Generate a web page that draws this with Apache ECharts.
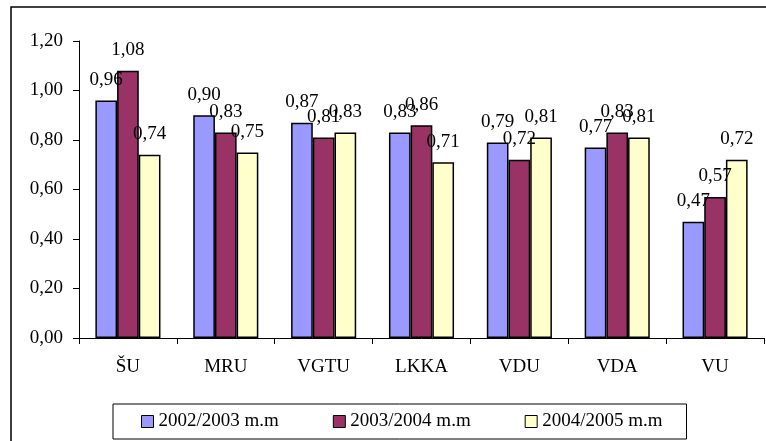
<!DOCTYPE html>
<html>
<head>
<meta charset="utf-8">
<script src="https://cdn.jsdelivr.net/npm/echarts@6/dist/echarts.min.js"></script>
<style>
  html, body { margin: 0; padding: 0; background: #fff; }
  #container { width: 766px; height: 441px; }
</style>
</head>
<body>
<div id="container"></div>
<script>
// kategorijos (universitetai)
var categories = ['ŠU', 'MRU', 'VGTU', 'LKKA', 'VDU', 'VDA', 'VU'];

var seriesNames = ['2002/2003 m.m', '2003/2004 m.m', '2004/2005 m.m'];

var values2002 = [0.96, 0.90, 0.87, 0.83, 0.79, 0.77, 0.47];
var values2003 = [1.08, 0.83, 0.81, 0.86, 0.72, 0.83, 0.57];
var values2004 = [0.74, 0.75, 0.83, 0.71, 0.81, 0.81, 0.72];

var yTicks = [0, 0.2, 0.4, 0.6, 0.8, 1.0, 1.2];

var colors = ['#9999FF', '#993366', '#FFFFCC'];

var font = 'Liberation Serif';

function fmt(v) {
    return v.toFixed(2).replace('.', ',');
}

var dom = document.getElementById("container");
var myChart = echarts.init(dom);

function makeSeries(name, data, color) {
    return {
        name: name,
        type: 'bar',
        data: data,
        barWidth: 21.7,
        barGap: '0%',
        barCategoryGap: '33%',
        itemStyle: {
            color: color,
            borderColor: '#000',
            borderWidth: 1.5
        },
        label: {
            show: true,
            position: 'top',
            distance: 11,
            color: '#000',
            fontFamily: font,
            fontSize: 19,
            formatter: function (p) { return fmt(p.value); }
        },
        animation: false
    };
}

var option = {
    animation: false,
    backgroundColor: '#fff',
    textStyle: { fontFamily: font },
    graphic: [{
        type: 'rect',
        shape: { x: 11, y: 7, width: 800, height: 500 },
        style: { fill: 'none', stroke: '#000', lineWidth: 1.5 },
        silent: true,
        z: -10
    }],
    grid: {
        left: 79,
        right: 2,
        top: 41,
        bottom: 103
    },
    legend: {
        left: 113,
        top: 404,
        itemWidth: 12,
        itemHeight: 12,
        itemGap: 54,
        padding: [8, 24, 8, 28],
        borderColor: '#000',
        borderWidth: 1,
        icon: 'rect',
        itemStyle: { borderColor: '#000', borderWidth: 1 },
        textStyle: { color: '#000', fontFamily: font, fontSize: 19, padding: [0, 0, 0, 0] },
        data: seriesNames
    },
    xAxis: {
        type: 'category',
        data: categories,
        axisLine: { lineStyle: { color: '#000', width: 1 } },
        axisTick: { show: true, inside: false, length: 6, alignWithLabel: false, lineStyle: { color: '#000' } },
        axisLabel: { color: '#000', fontFamily: font, fontSize: 19, margin: 20 }
    },
    yAxis: {
        type: 'value',
        min: yTicks[0],
        max: yTicks[yTicks.length - 1],
        interval: 0.2,
        splitLine: { show: false },
        axisLine: { show: true, lineStyle: { color: '#000', width: 1 } },
        axisTick: { show: true, length: 6, lineStyle: { color: '#000' } },
        axisLabel: {
            color: '#000',
            fontFamily: font,
            fontSize: 19,
            margin: 16,
            formatter: function (v) { return fmt(v); }
        }
    },
    series: [
        makeSeries(seriesNames[0], values2002, colors[0]),
        makeSeries(seriesNames[1], values2003, colors[1]),
        makeSeries(seriesNames[2], values2004, colors[2])
    ]
};

if (option && typeof option === "object") {
    myChart.setOption(option, true);
}
</script>
</body>
</html>
